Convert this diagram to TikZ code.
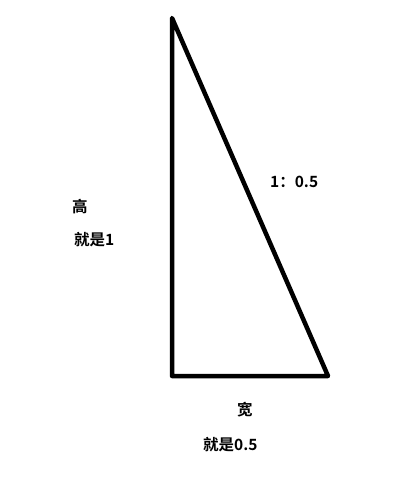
\documentclass[tikz,border=0pt]{standalone}
\usepackage{fontspec}
\newfontfamily\cjk{Noto Sans CJK SC}[BoldFont={Noto Sans CJK SC Bold}]
\begin{document}
\begin{tikzpicture}[x=1pt,y=-1pt,
  lbl/.style={font=\cjk\bfseries\fontsize{15.5}{17}\selectfont, inner sep=0pt, anchor=west}]
\useasboundingbox[fill=white] (0,0) rectangle (416,484);
\coordinate (A) at (172,18);
\coordinate (B) at (172,376);
\coordinate (C) at (328,376);
\draw[line width=4.5pt, line join=round] (A) -- (B) -- (C) -- cycle;
\node[lbl] (h1) at (72,207) {高};
\node[lbl] (h2) at (74,240) {就是1};
\node[lbl] (r) at (270,182) {1：0.5};
\node[lbl] (w1) at (237,410) {宽};
\node[lbl] (w2) at (203,445) {就是0.5};
\end{tikzpicture}
\end{document}
